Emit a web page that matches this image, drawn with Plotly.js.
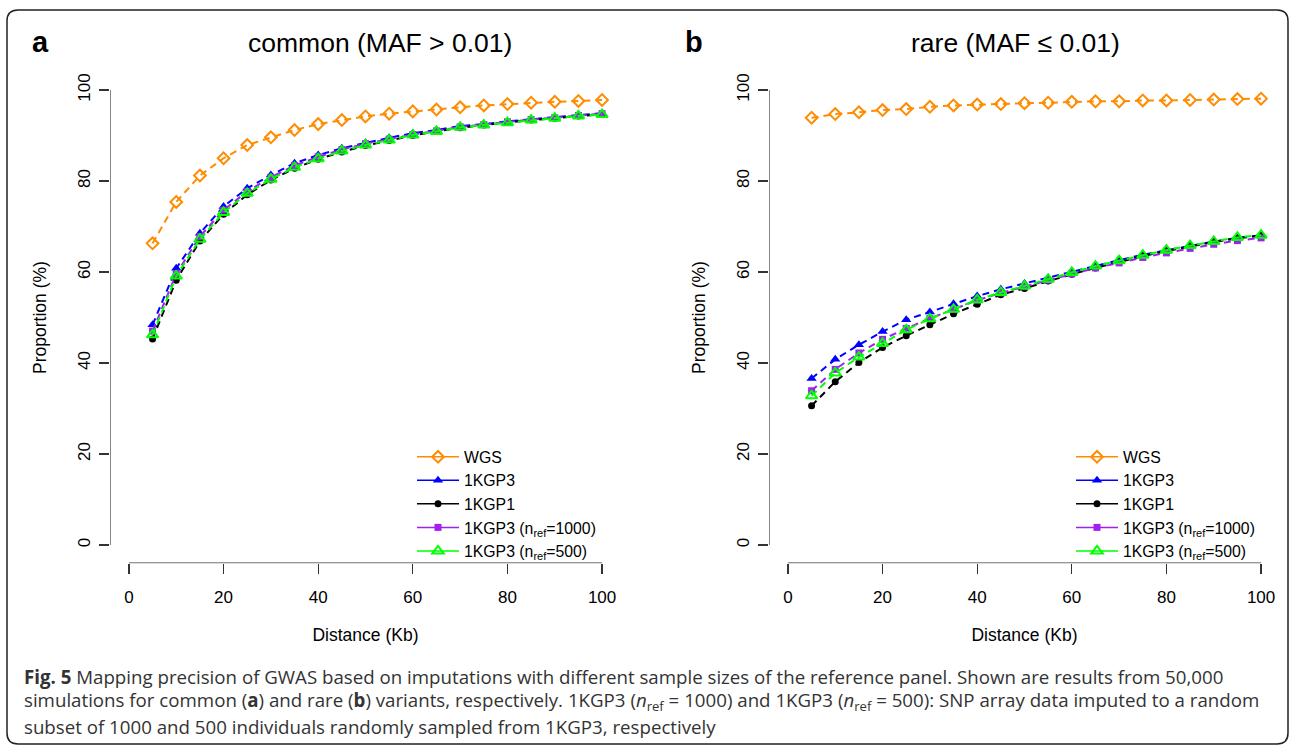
<!DOCTYPE html>
<html>
<head>
<meta charset="utf-8">
<script src="https://cdn.plot.ly/plotly-3.0.1.min.js"></script>
<style>html,body{margin:0;padding:0;background:#fff;}#chart{width:1292px;height:747px;}</style>
</head>
<body>
<div id="chart"></div>
<script>
// ---------- data ----------
const distance = [5,10,15,20,25,30,35,40,45,50,55,60,65,70,75,80,85,90,95,100];
const seriesNames = ["WGS", "1KGP3", "1KGP1", "1KGP3 (n<sub>ref</sub>=1000)", "1KGP3 (n<sub>ref</sub>=500)"];

const commonWGS   = [66.3,75.4,81.2,85.0,87.9,89.6,91.2,92.5,93.4,94.2,94.8,95.3,95.7,96.2,96.6,96.9,97.2,97.4,97.6,97.8];
const common1KGP3 = [48.4,60.8,68.5,74.4,78.4,81.3,83.9,85.7,87.2,88.4,89.5,90.5,91.2,92.1,92.5,93.1,93.6,94.0,94.5,94.9];
const common1KGP1 = [45.3,58.2,66.8,72.7,77.0,80.2,82.8,84.8,86.4,87.8,88.9,90.0,90.9,91.7,92.3,92.9,93.4,93.8,94.3,94.6];
const commonN1000 = [47.0,59.6,67.8,73.6,77.7,80.8,83.4,85.3,86.9,88.2,89.2,90.2,91.0,91.9,92.4,93.0,93.5,93.9,94.4,94.8];
const commonN500  = [46.2,59.1,67.2,73.1,77.3,80.4,83.0,84.9,86.6,87.9,89.0,90.1,90.9,91.8,92.3,92.8,93.4,93.8,94.3,94.6];

const rareWGS   = [93.9,94.7,95.1,95.6,95.8,96.3,96.6,96.8,96.9,97.1,97.2,97.4,97.5,97.5,97.7,97.7,97.8,97.9,98.0,98.1];
const rare1KGP3 = [36.6,40.8,44.0,46.9,49.5,51.2,53.0,54.7,56.2,57.5,58.7,60.1,61.4,62.6,63.8,64.8,65.8,66.7,67.5,68.1];
const rare1KGP1 = [30.6,35.9,40.1,43.4,46.0,48.4,50.8,52.9,55.0,56.4,58.0,59.5,60.9,62.2,63.5,64.6,65.6,66.6,67.4,68.0];
const rareN1000 = [33.9,38.6,42.2,45.2,47.6,49.8,51.8,53.8,55.4,56.8,58.2,59.6,60.9,62.0,63.2,64.2,65.2,66.1,66.9,67.5];
const rareN500  = [32.8,37.8,41.3,44.3,47.3,49.7,51.8,53.9,55.5,56.9,58.4,59.9,61.3,62.5,63.7,64.8,65.8,66.7,67.6,68.1];

const xTicks = [0,20,40,60,80,100];
const yTicks = [0,20,40,60,80,100];

const panelTitles = ["common (MAF > 0.01)", "rare (MAF ≤ 0.01)"];
const panelLabels = ["a", "b"];
const captionLines = [
  "<b>Fig. 5</b> Mapping precision of GWAS based on imputations with different sample sizes of the reference panel. Shown are results from 50,000",
  "simulations for common (<b>a</b>) and rare (<b>b</b>) variants, respectively. 1KGP3 (<i>n</i><sub>ref</sub> = 1000) and 1KGP3 (<i>n</i><sub>ref</sub> = 500): SNP array data imputed to a random",
  "subset of 1000 and 500 individuals randomly sampled from 1KGP3, respectively"
];

// ---------- styles ----------
const W = 1292, H = 747;
const px = v => v / W;
const py = v => 1 - v / H;

const styles = [
  {color:"#FF8C00", symbol:"diamond-open", size:9, lw:2},
  {color:"#0000FF", symbol:"triangle-up", size:9, lw:0},
  {color:"#000000", symbol:"circle", size:7, lw:0},
  {color:"#A020F0", symbol:"square", size:7, lw:0},
  {color:"#00FF00", symbol:"triangle-up-open", size:10, lw:2}
];

const commonSets = [commonWGS, common1KGP3, common1KGP1, commonN1000, commonN500];
const rareSets   = [rareWGS, rare1KGP3, rare1KGP1, rareN1000, rareN500];

const traces = [];
function addPanel(sets, xa, ya, legendId) {
  sets.forEach((ys, i) => {
    const s = styles[i];
    traces.push({
      type: "scatter", mode: "lines+markers",
      x: distance, y: ys, xaxis: xa, yaxis: ya,
      name: seriesNames[i], showlegend: false,
      line: {color: s.color, width: 2, dash: "7px,5px"},
      marker: {color: s.color, symbol: s.symbol, size: s.size, line: {color: s.color, width: s.lw}},
      cliponaxis: false
    });
  });
  // legend entries (solid line + marker, as in the original legend)
  sets.forEach((ys, i) => {
    const s = styles[i];
    traces.push({
      type: "scatter", mode: "lines+markers",
      x: [null], y: [null], xaxis: xa, yaxis: ya,
      name: seriesNames[i], showlegend: true, legend: legendId,
      line: {color: s.color, width: 1.5},
      marker: {color: s.color, symbol: s.symbol, size: s.size, line: {color: s.color, width: s.lw}}
    });
  });
}
addPanel(commonSets, "x", "y", "legend");
addPanel(rareSets, "x2", "y2", "legend2");

const FAM = "Liberation Sans, Arial, sans-serif";
const font = {family: FAM, color: "#000"};

function xAxis(domain, anchor) {
  return {
    domain: domain, anchor: anchor, range: [-4, 104], fixedrange: true,
    showgrid: false, zeroline: false, showline: false,
    tickmode: "array", tickvals: xTicks, ticktext: xTicks.map(String),
    ticks: "outside", ticklen: 10, tickwidth: 1.2, tickcolor: "#333",
    ticklabelstandoff: 8,
    tickfont: {family: FAM, size: 17, color: "#000"},
    title: {text: "Distance (Kb)", font: {family: FAM, size: 17.5, color: "#000"}, standoff: 23},
    automargin: false
  };
}
function yAxis(domain, anchor) {
  return {
    domain: domain, anchor: anchor, range: [-4, 104], fixedrange: true,
    showgrid: false, zeroline: false, showline: false,
    tickmode: "array", tickvals: yTicks, ticktext: yTicks.map(String),
    ticks: "outside", ticklen: 10, tickwidth: 1.2, tickcolor: "#333",
    tickangle: -90, ticklabelstandoff: 2,
    tickfont: {family: FAM, size: 17, color: "#000"},
    title: {text: "Proportion (%)", font: {family: FAM, size: 17.5, color: "#000"}, standoff: 24},
    automargin: false
  };
}

function legendCfg(xPix) {
  return {
    x: px(xPix), y: py(440), xanchor: "left", yanchor: "top",
    bgcolor: "rgba(0,0,0,0)", borderwidth: 0,
    font: {family: FAM, size: 15.8, color: "#000"},
    tracegroupgap: 0, itemwidth: 42
  };
}

const yDom = [py(563.2), py(71.8)];
const framePath = (() => {
  const l = 7, r = 1288, t = 10, b = 744, rad = 11;
  return `M ${px(l+rad)} ${py(t)} L ${px(r-rad)} ${py(t)} Q ${px(r)} ${py(t)} ${px(r)} ${py(t+rad)} ` +
         `L ${px(r)} ${py(b-rad)} Q ${px(r)} ${py(b)} ${px(r-rad)} ${py(b)} ` +
         `L ${px(l+rad)} ${py(b)} Q ${px(l)} ${py(b)} ${px(l)} ${py(b-rad)} ` +
         `L ${px(l)} ${py(t+rad)} Q ${px(l)} ${py(t)} ${px(l+rad)} ${py(t)} Z`;
})();

const annotations = [];
[40, 694].forEach((xp, i) => annotations.push({
  text: "<b>" + panelLabels[i] + "</b>", x: px(xp), y: py(42), xref: "paper", yref: "paper",
  xanchor: "center", yanchor: "middle", showarrow: false,
  font: {family: FAM, size: 29, color: "#000"}
}));
[380, 1015].forEach((xp, i) => annotations.push({
  text: panelTitles[i], x: px(xp), y: py(43), xref: "paper", yref: "paper",
  xanchor: "center", yanchor: "middle", showarrow: false,
  font: {family: FAM, size: 26.5, color: "#000"}
}));
[676, 701, 726].forEach((yp, i) => annotations.push({
  text: captionLines[i], x: px(22), y: py(yp), xref: "paper", yref: "paper",
  xanchor: "left", yanchor: "middle", showarrow: false,
  font: {family: "Open Sans, sans-serif", size: 18.7, color: "#333"}
}));

const layout = {
  width: W, height: H,
  margin: {l: 0, r: 0, t: 0, b: 0},
  paper_bgcolor: "#fff", plot_bgcolor: "rgba(0,0,0,0)",
  font: font,
  showlegend: true,
  xaxis: xAxis([px(110), px(621)], "y"),
  yaxis: yAxis(yDom, "x"),
  xaxis2: xAxis([px(769), px(1280)], "y2"),
  yaxis2: yAxis(yDom, "x2"),
  legend: legendCfg(412),
  legend2: legendCfg(1071),
  shapes: [
    {type: "line", xref: "x", yref: "y", x0: 0, x1: 100, y0: -4, y1: -4, line: {color: "#333", width: 1.2}},
    {type: "line", xref: "x", yref: "y", x0: -4, x1: -4, y0: 0, y1: 100, line: {color: "#333", width: 1.2}},
    {type: "line", xref: "x2", yref: "y2", x0: 0, x1: 100, y0: -4, y1: -4, line: {color: "#333", width: 1.2}},
    {type: "line", xref: "x2", yref: "y2", x0: -4, x1: -4, y0: 0, y1: 100, line: {color: "#333", width: 1.2}},
    {type: "path", xref: "paper", yref: "paper", path: framePath,
     line: {color: "#222", width: 1.5}, fillcolor: "rgba(0,0,0,0)"}
  ],
  annotations: annotations
};

Plotly.newPlot("chart", traces, layout, {displayModeBar: false, staticPlot: true});
</script>
</body>
</html>
